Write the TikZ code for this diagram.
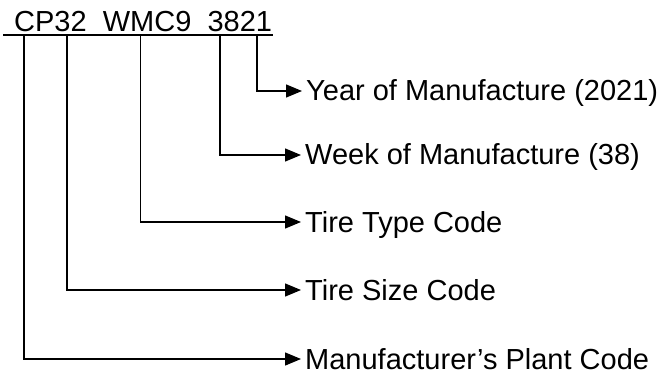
\documentclass[tikz,border=0pt]{standalone}
\usepackage{fontspec}
\setmainfont{Liberation Sans}
\usetikzlibrary{arrows.meta}
\begin{document}
\begin{tikzpicture}[x=1pt,y=-1pt,
  lbl/.style={anchor=west,inner sep=0pt,text height=20pt,text depth=0pt,font=\fontsize{29}{32}\selectfont},
  conn/.style={line width=1.4pt,-{Triangle[length=16pt,width=13pt]},shorten >=4pt},
  uline/.style={line width=2pt}]
\useasboundingbox (0,0) rectangle (666,374);
\node[anchor=base west,inner sep=0pt,font=\fontsize{29}{32}\selectfont] (code) at (14,32) {CP32\ \ WMC9\ \ 3821};
\coordinate (ul) at (3,35);
\coordinate (ur) at (273,35);
\draw[uline] (ul) -- (ur);
\coordinate (t1) at (24,35);
\coordinate (t2) at (67,35);
\coordinate (t3) at (140.5,35);
\coordinate (t4) at (220,35);
\coordinate (t5) at (257,35);
\node[lbl] (year) at (306,91) {Year of Manufacture (2021)};
\node[lbl] (week) at (305,155) {Week of Manufacture (38)};
\node[lbl] (type) at (305,222) {Tire Type Code};
\node[lbl] (size) at (305,290) {Tire Size Code};
\node[lbl] (plant) at (305,359) {Manufacturer’s Plant Code};
\draw[conn] (t5) |- (year.west);
\draw[conn] (t4) |- (week.west);
\draw[conn] (t3) |- (type.west);
\draw[conn] (t2) |- (size.west);
\draw[conn] (t1) |- (plant.west);
\end{tikzpicture}
\end{document}
